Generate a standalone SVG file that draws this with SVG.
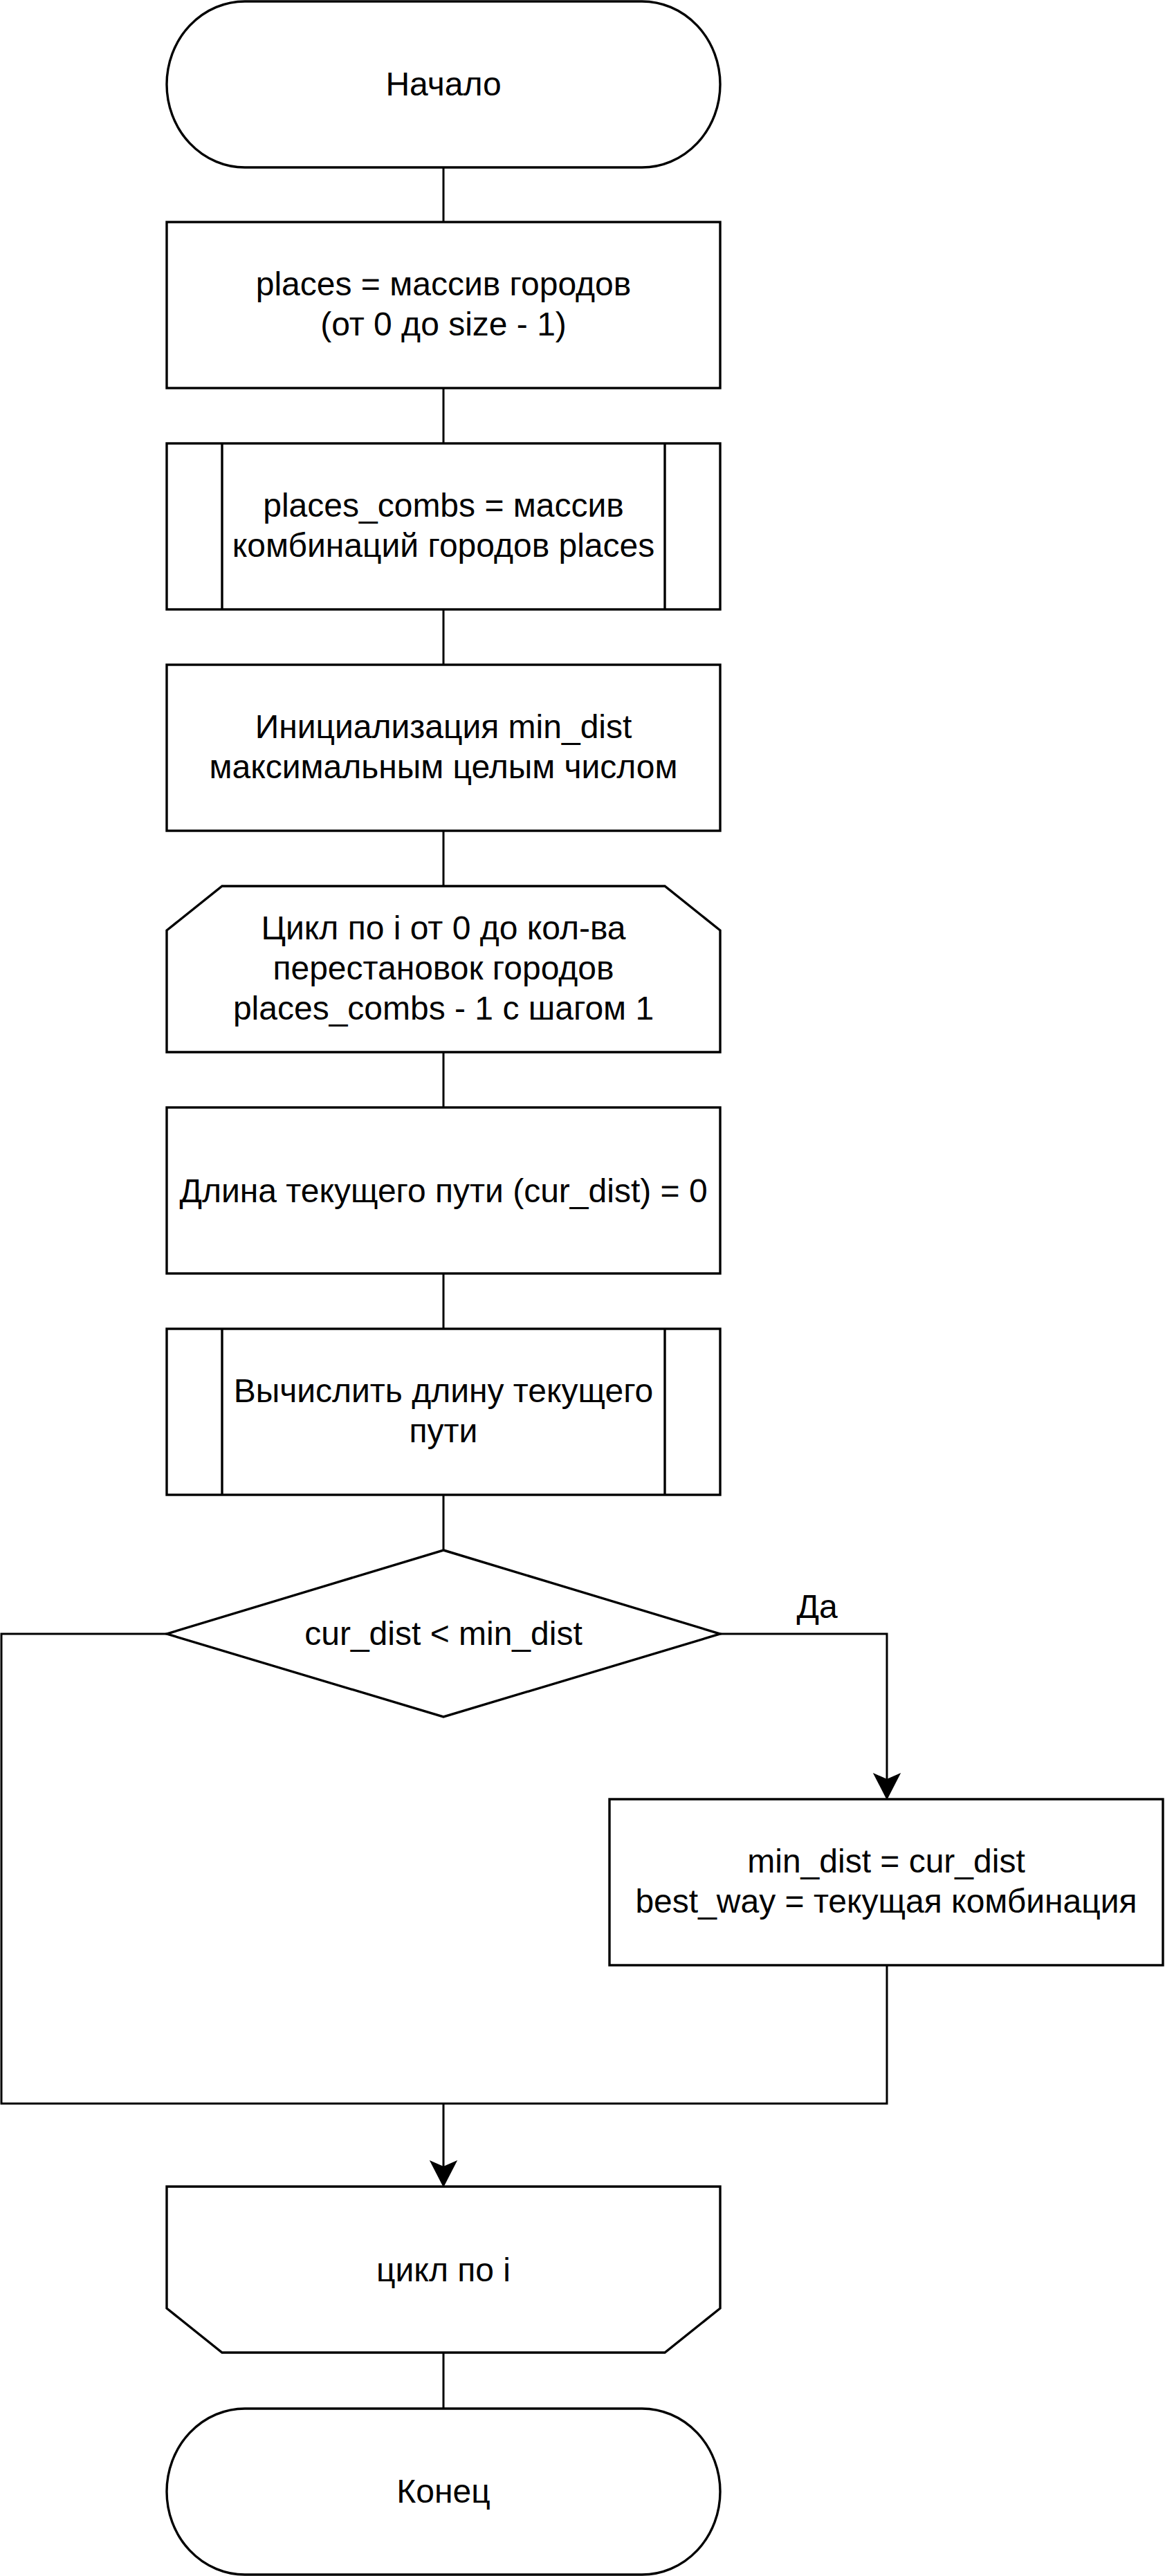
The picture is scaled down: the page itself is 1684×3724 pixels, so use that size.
<svg xmlns="http://www.w3.org/2000/svg" width="1684" height="3724" viewBox="0 0 1684 3724">
<style>
.n{fill:#fff;stroke:#000;stroke-width:3.4;stroke-linejoin:miter}
.c{fill:none;stroke:#000;stroke-width:3}
.a{fill:#000;stroke:#000;stroke-width:2}
.t{font-family:"Liberation Sans",Arial,sans-serif;font-size:48px;fill:#000;text-anchor:middle}
</style>
<rect width="1684" height="3724" fill="#fff"/>
<g id="connectors">
<path class="c" d="M641,241 V321"/>
<path class="c" d="M641,561 V641"/>
<path class="c" d="M641,881 V961"/>
<path class="c" d="M641,1201 V1281"/>
<path class="c" d="M641,1521 V1601"/>
<path class="c" d="M641,1841 V1921"/>
<path class="c" d="M641,2161 V2241"/>
<path class="c" d="M1041,2362 H1282 V2575"/>
<path class="a" d="M1282,2600 L1264,2565 L1282,2573 L1300,2565 Z"/>
<path class="c" d="M241,2362 H2 V3041 H1282 V2841"/>
<path class="c" d="M641,3041 V3135"/>
<path class="a" d="M641,3160 L623,3125 L641,3133 L659,3125 Z"/>
<path class="c" d="M641,3401 V3481"/>
<text class="t" x="1181" y="2339">Да</text>
</g>
<g id="start">
<path class="n" d="M354,2 H928 A113,120 0 0 1 928,242 H354 A113,120 0 0 1 354,2 Z"/>
<text class="t" x="641" y="138">Начало</text>
</g>
<g id="places">
<rect class="n" x="241" y="321" width="800" height="240"/>
<text class="t" x="641" y="427">places = массив городов</text>
<text class="t" x="641" y="485">(от 0 до size - 1)</text>
</g>
<g id="places_combs">
<rect class="n" x="241" y="641" width="800" height="240"/>
<path class="n" d="M321,641 V881 M961,641 V881"/>
<text class="t" x="641" y="747">places_combs = массив</text>
<text class="t" x="641" y="805">комбинаций городов places</text>
</g>
<g id="init">
<rect class="n" x="241" y="961" width="800" height="240"/>
<text class="t" x="641" y="1067">Инициализация min_dist</text>
<text class="t" x="641" y="1125">максимальным целым числом</text>
</g>
<g id="loop_start">
<path class="n" d="M321,1281 H961 L1041,1345 V1521 H241 V1345 Z"/>
<text class="t" x="641" y="1358">Цикл по i от 0 до кол-ва</text>
<text class="t" x="641" y="1416">перестановок городов</text>
<text class="t" x="641" y="1474">places_combs - 1 с шагом 1</text>
</g>
<g id="cur_dist_init">
<rect class="n" x="241" y="1601" width="800" height="240"/>
<text class="t" x="641" y="1738">Длина текущего пути (cur_dist) = 0</text>
</g>
<g id="calc_dist">
<rect class="n" x="241" y="1921" width="800" height="240"/>
<path class="n" d="M321,1921 V2161 M961,1921 V2161"/>
<text class="t" x="641" y="2027">Вычислить длину текущего</text>
<text class="t" x="641" y="2085">пути</text>
</g>
<g id="decision">
<path class="n" d="M641,2241 L1041,2362 L641,2482 L241,2362 Z"/>
<text class="t" x="641" y="2378">cur_dist &lt; min_dist</text>
</g>
<g id="update">
<rect class="n" x="881" y="2601" width="800" height="240"/>
<text class="t" x="1281" y="2707">min_dist = cur_dist</text>
<text class="t" x="1281" y="2765">best_way = текущая комбинация</text>
</g>
<g id="loop_end">
<path class="n" d="M241,3161 H1041 V3337 L961,3401 H321 L241,3337 Z"/>
<text class="t" x="641" y="3298">цикл по i</text>
</g>
<g id="end">
<path class="n" d="M354,3482 H928 A113,120 0 0 1 928,3722 H354 A113,120 0 0 1 354,3482 Z"/>
<text class="t" x="641" y="3618">Конец</text>
</g>
</svg>
